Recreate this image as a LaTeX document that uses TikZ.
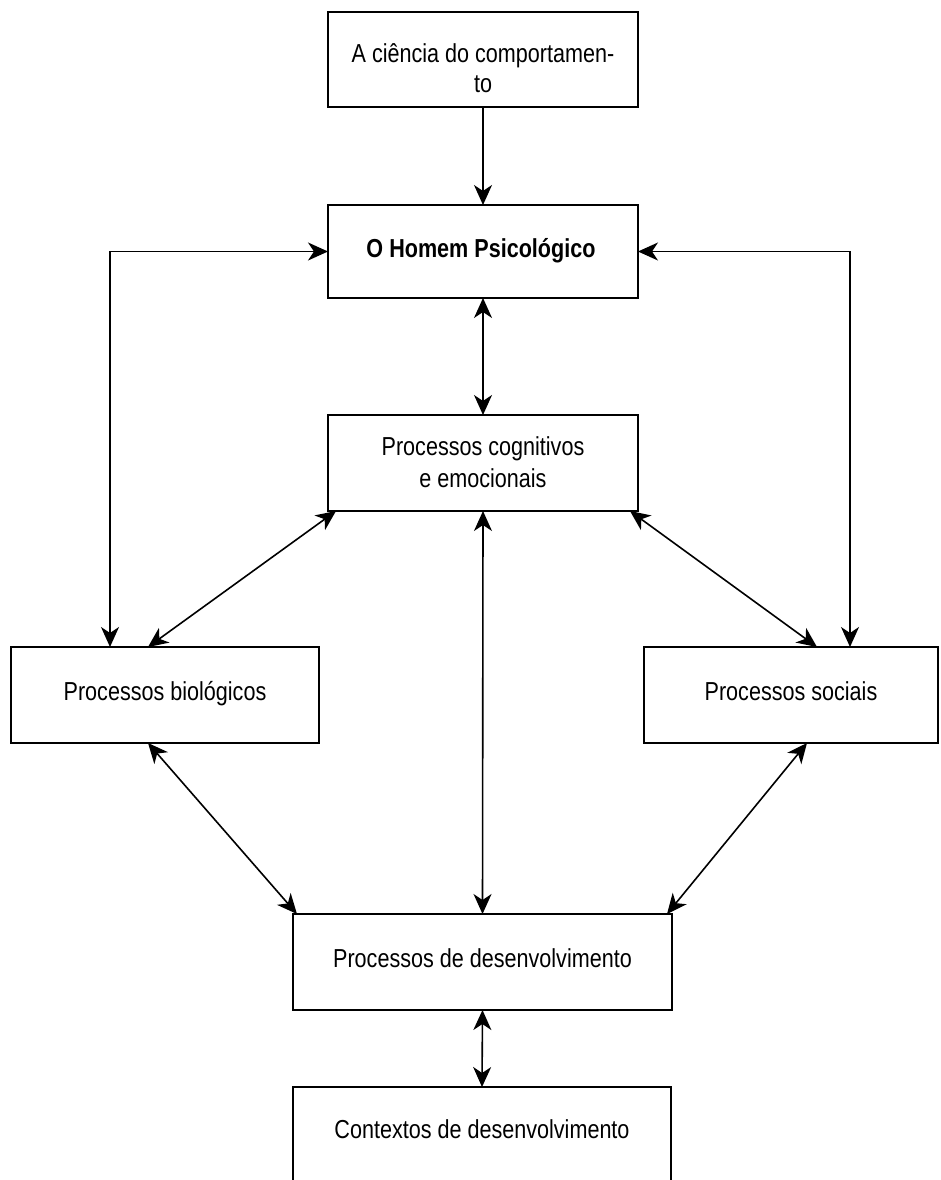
\documentclass[tikz,border=0pt]{standalone}
\usepackage{fontspec}
\setmainfont{Liberation Sans}[FakeStretch=0.83]
\usetikzlibrary{arrows.meta,calc}
\begin{document}
\begin{tikzpicture}[x=1pt,y=-1pt,
  box/.style={draw,line width=1.6pt,rectangle,inner sep=0pt,outer sep=0pt},
  txt/.style={anchor=base,inner sep=0pt,font=\fontsize{26}{30}\selectfont},
  conn/.style={line width=1.6pt,{Stealth[length=20pt,width=18pt,inset=6pt]}-{Stealth[length=20pt,width=18pt,inset=6pt]}},
  oneway/.style={line width=1.6pt,-{Stealth[length=20pt,width=18pt,inset=6pt]}}]
\useasboundingbox (0,0) rectangle (940,1180);
\clip (0,0) rectangle (940,1180);
\fill[white] (0,0) rectangle (940,1180);
% boxes
\node[box,minimum width=310pt,minimum height=95pt] (sci) at (483,59.5) {};
\node[box,minimum width=310pt,minimum height=93pt] (home) at (483,251.5) {};
\node[box,minimum width=310pt,minimum height=96pt] (cog) at (483,463) {};
\node[box,minimum width=308pt,minimum height=96pt] (bio) at (165,695) {};
\node[box,minimum width=294pt,minimum height=96pt] (soc) at (791,695) {};
\node[box,minimum width=379pt,minimum height=96pt] (dev) at (482.5,962) {};
\node[box,minimum width=378pt,minimum height=200pt] (ctx) at (482,1187) {};
% texts
\node[txt] at (483,63) {A ciência do comportamen-};
\node[txt] at (483,93) {to};
\node[txt,font=\fontsize{26}{30}\selectfont\bfseries] at (481,257) {O Homem Psicológico};
\node[txt] at (483,455) {Processos cognitivos};
\node[txt] at (483,487) {e emocionais};
\node[txt] at (165,700) {Processos biológicos};
\node[txt] at (791,700) {Processos sociais};
\node[txt] at (482.5,967) {Processos de desenvolvimento};
\node[txt] at (482,1138) {Contextos de desenvolvimento};
% connectors
\draw[oneway] (sci.south) -- (home.north);
\draw[conn] (home.south) -- (cog.north);
\draw[conn] (home.west) -| ($(bio.north west)+(99,0)$);
\draw[conn] (home.east) -| ($(soc.north west)+(206,0)$);
\draw[conn] ($(cog.south west)+(8,0)$) -- ($(bio.north west)+(137,0)$);
\draw[conn] ($(cog.south east)+(-8,0)$) -- ($(soc.north west)+(173,0)$);
\draw[conn] (cog.south) -- (dev.north);
\draw[conn] ($(bio.south west)+(137,0)$) -- ($(dev.north west)+(4,0)$);
\draw[conn] ($(soc.south west)+(163,0)$) -- ($(dev.north east)+(-5,0)$);
\draw[conn] (dev.south) -- (ctx.north);
\end{tikzpicture}
\end{document}
